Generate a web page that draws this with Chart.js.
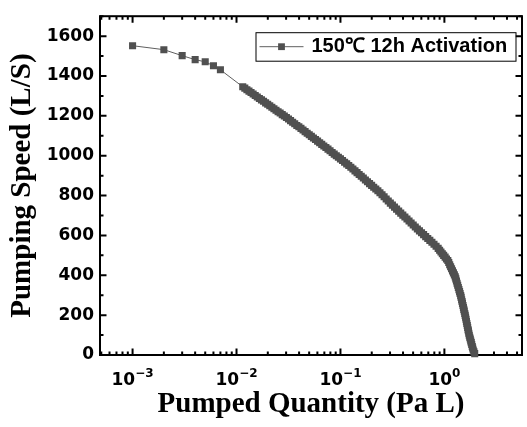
<!DOCTYPE html>
<html><head><meta charset="utf-8">
<script src="https://cdn.jsdelivr.net/npm/chart.js@4.4.1/dist/chart.umd.min.js"></script>
<style>html,body{margin:0;padding:0;background:#fff}#wrap{width:527px;height:427px}</style>
</head><body><div id="wrap"><canvas id="c" width="527" height="427"></canvas></div>
<script>
const seriesLabel = '150℃ 12h Activation';
const xTitle = 'Pumped Quantity (Pa L)';
const yTitle = 'Pumping Speed (L/S)';
const xTickValues = [0.001, 0.01, 0.1, 1];
const xTickBase = '10';
const xTickExponents = ['−3', '−2', '−1', '0'];
const yTickValues = [0, 200, 400, 600, 800, 1000, 1200, 1400, 1600];

const pumpedQuantity = [0.001, 0.002, 0.003, 0.004, 0.005, 0.006, 0.007,
  0.01148, 0.01202, 0.01259, 0.01318, 0.01380, 0.01445, 0.01514, 0.01585, 0.01660, 0.01738,
  0.01820, 0.01905, 0.01995, 0.02089, 0.02188, 0.02291, 0.02399, 0.02512, 0.02630, 0.02754,
  0.02884, 0.03020, 0.03162, 0.03311, 0.03467, 0.03631, 0.03802, 0.03981, 0.04169, 0.04365,
  0.04571, 0.04786, 0.05012, 0.05248, 0.05495, 0.05754, 0.06026, 0.06310, 0.06607, 0.06918,
  0.07244, 0.07586, 0.07943, 0.08318, 0.08710, 0.09120, 0.09550, 0.1000, 0.1047, 0.1096,
  0.1148, 0.1202, 0.1259, 0.1318, 0.1380, 0.1445, 0.1514, 0.1585, 0.1660, 0.1738,
  0.1820, 0.1905, 0.1995, 0.2089, 0.2188, 0.2291, 0.2399, 0.2512, 0.2630, 0.2754,
  0.2884, 0.3020, 0.3162, 0.3311, 0.3467, 0.3631, 0.3802, 0.3981, 0.4169, 0.4365,
  0.4571, 0.4786, 0.5012, 0.5248, 0.5495, 0.5754, 0.6026, 0.6310, 0.6607, 0.6918,
  0.7244, 0.7586, 0.7943, 0.8318,
  0.8710, 0.8995, 0.9268, 0.9550, 0.9840, 1.0163, 1.0471, 1.0789,
  1.1015, 1.1246, 1.1482, 1.1722, 1.1967, 1.2218, 1.2474, 1.2718,
  1.2882, 1.3062, 1.3243, 1.3428, 1.3614, 1.3804, 1.3996, 1.4158, 1.4355,
  1.4488, 1.4655, 1.4791, 1.4928, 1.5101, 1.5241, 1.5382, 1.5524, 1.5704, 1.5849,
  1.5996, 1.6144, 1.6293, 1.6444, 1.6596, 1.6749, 1.6904, 1.7022, 1.7179, 1.7338,
  1.7539, 1.7742, 1.7947, 1.8113, 1.8323, 1.8535, 1.8707, 1.8923, 1.9231, 1.9566];
const pumpingSpeed = [1552, 1532, 1502, 1482, 1471, 1451, 1431,
  1346, 1339, 1331, 1324, 1317, 1310, 1302, 1295, 1287, 1280,
  1273, 1265, 1258, 1251, 1243, 1236, 1228, 1221, 1214, 1206,
  1199, 1192, 1184, 1176, 1168, 1160, 1152, 1145, 1137, 1129,
  1121, 1113, 1105, 1097, 1089, 1081, 1073, 1065, 1057, 1049,
  1041, 1033, 1025, 1016, 1008, 1000, 992, 984, 976, 967,
  959, 951, 942, 933, 924, 915, 906, 897, 888, 878,
  869, 860, 851, 842, 833, 824, 814, 804, 794, 783,
  773, 762, 752, 742, 732, 722, 712, 702, 692, 682,
  672, 662, 652, 642, 632, 623, 613, 604, 594, 585,
  575, 566, 556, 546,
  535, 526, 517, 508, 500, 491, 482, 474,
  464, 453, 443, 433, 422, 412, 402, 392,
  382, 371, 360, 350, 339, 328, 318, 309, 298,
  289, 277, 268, 259, 248, 238, 229, 220, 208, 199,
  189, 179, 168, 158, 148, 138, 127, 120, 109, 99,
  89, 80, 70, 62, 53, 43, 35, 25, 16, 7];

const points = pumpedQuantity.map((q, i) => ({ x: q, y: pumpingSpeed[i] }));

const tickFont = { family: 'DejaVu Sans', weight: 'bold', size: 17 };
const titleFont = { family: 'Liberation Serif', weight: 'bold', size: 29 };

const frameTicks = {
  id: 'frameTicks',
  beforeDatasetsDraw(chart) {
    const { ctx, chartArea: a, scales: { x, y } } = chart;
    ctx.save();
    ctx.strokeStyle = '#000';
    ctx.lineWidth = 2;
    ctx.beginPath();
    for (let d = -4; d <= 1; d++) {
      for (let k = 1; k <= 9; k++) {
        const v = k * Math.pow(10, d);
        if (v < x.min || v > x.max) continue;
        const px = x.getPixelForValue(v);
        const len = k === 1 ? 6.5 : 3.5;
        ctx.moveTo(px, a.bottom); ctx.lineTo(px, a.bottom - len);
        ctx.moveTo(px, a.top); ctx.lineTo(px, a.top + len);
      }
    }
    for (let v = 0; v <= y.max; v += 100) {
      const py = y.getPixelForValue(v);
      const len = v % 200 === 0 ? 6.5 : 3.5;
      ctx.moveTo(a.left, py); ctx.lineTo(a.left + len, py);
      ctx.moveTo(a.right, py); ctx.lineTo(a.right - len, py);
    }
    ctx.stroke();
    ctx.strokeRect(a.left, a.top, a.right - a.left, a.bottom - a.top);

    // x tick labels with superscript exponents
    ctx.fillStyle = '#000';
    ctx.textAlign = 'left';
    ctx.textBaseline = 'alphabetic';
    x.ticks.forEach((t, i) => {
      const px = x.getPixelForValue(t.value);
      ctx.font = 'bold 17px "DejaVu Sans"';
      const wb = ctx.measureText(xTickBase).width;
      ctx.font = 'bold 12px "DejaVu Sans"';
      const we = ctx.measureText(xTickExponents[i]).width;
      const x0 = px - (wb + we) / 2;
      ctx.font = 'bold 17px "DejaVu Sans"';
      ctx.fillText(xTickBase, x0, a.bottom + 29.5);
      ctx.font = 'bold 12px "DejaVu Sans"';
      ctx.fillText(xTickExponents[i], x0 + wb, a.bottom + 21.5);
    });
    ctx.restore();
  },
  afterDraw(chart) {
    const { ctx, chartArea: a } = chart;
    const ds = chart.data.datasets[0];
    const bx = a.right - 266.5, by = a.top + 16, bw = 260, bh = 28.5;
    ctx.save();
    ctx.fillStyle = '#fff';
    ctx.fillRect(bx, by, bw, bh);
    ctx.strokeStyle = '#000';
    ctx.lineWidth = 1;
    ctx.strokeRect(bx + 0.5, by + 0.5, bw, bh);
    const ly = by + 14.5;
    ctx.strokeStyle = ds.borderColor;
    ctx.beginPath(); ctx.moveTo(bx + 4, ly); ctx.lineTo(bx + 48, ly); ctx.stroke();
    ctx.fillStyle = ds.pointBackgroundColor;
    ctx.fillRect(bx + 26 - 3.4, ly - 3.4, 6.8, 6.8);
    ctx.fillStyle = '#000';
    ctx.font = 'bold 20px "Liberation Sans"';
    ctx.textBaseline = 'middle';
    ctx.textAlign = 'left';
    ctx.fillText(ds.label, bx + 56, ly);
    ctx.restore();
  }
};

new Chart(document.getElementById('c'), {
  type: 'scatter',
  data: {
    datasets: [{
      label: seriesLabel,
      data: points,
      showLine: true,
      borderColor: '#5f5f5f',
      borderWidth: 1,
      pointStyle: 'rect',
      pointRadius: 5,
      pointBackgroundColor: '#505050',
      pointBorderColor: '#505050',
      pointBorderWidth: 0,
      tension: 0,
      clip: 4
    }]
  },
  options: {
    responsive: false,
    animation: false,
    devicePixelRatio: 1,
    layout: { padding: { top: 13, right: 3.5, left: 0, bottom: 0 } },
    plugins: { legend: { display: false }, tooltip: { enabled: false } },
    scales: {
      x: {
        type: 'logarithmic',
        min: 0.000486,
        max: 5.58,
        afterBuildTicks: s => { s.ticks = xTickValues.map(v => ({ value: v, major: true })); },
        afterFit: s => { s.height = 72; },
        grid: { display: false, drawTicks: false },
        border: { display: false },
        ticks: { display: false },
        title: { display: true, text: xTitle, font: titleFont, color: '#000', padding: { top: 0, bottom: 4.6 } }
      },
      y: {
        type: 'linear',
        min: 0,
        max: 1700,
        afterBuildTicks: s => { s.ticks = yTickValues.map(v => ({ value: v })); },
        afterFit: s => { s.width = 100; },
        grid: { display: false, drawTicks: false },
        border: { display: false },
        ticks: { font: tickFont, color: '#000', padding: 6, callback: v => String(v) },
        title: { display: true, text: yTitle, font: titleFont, color: '#000', padding: { top: 5.6, bottom: 0 } }
      }
    }
  },
  plugins: [frameTicks]
});
</script>
</body></html>
